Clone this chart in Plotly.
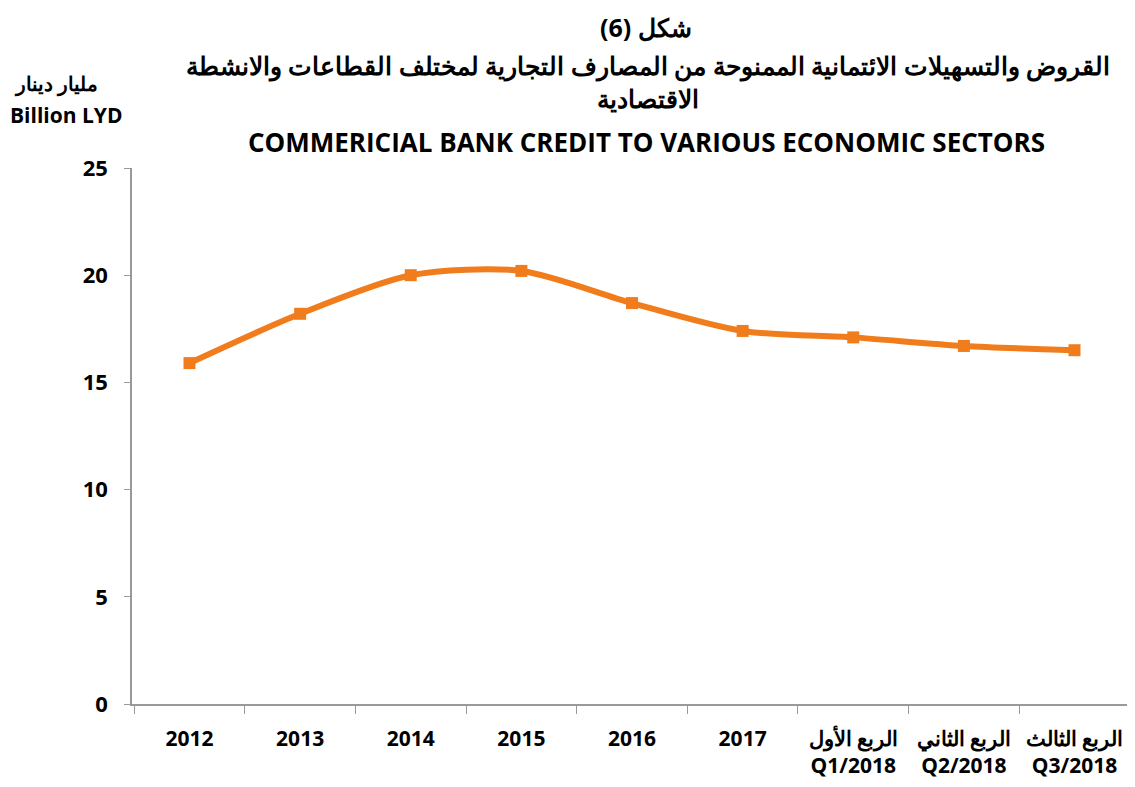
import plotly.graph_objects as go

categories = ["2012", "2013", "2014", "2015", "2016", "2017",
              "الربع الأول<br>Q1/2018", "الربع الثاني<br>Q2/2018", "الربع الثالث<br>Q3/2018"]
credit_values = [15.9, 18.2, 20.0, 20.2, 18.7, 17.4, 17.1, 16.7, 16.5]
y_ticks = [0, 5, 10, 15, 20, 25]

ORANGE = "#F07C1C"
FONT = "Open Sans"
W, H = 1135, 787
OFF = 8  # page body margin
L, R, T, B = 124, 11, 160, 91

fig = go.Figure()
fig.add_trace(go.Scatter(
    x=categories, y=credit_values, mode="lines+markers",
    line=dict(color=ORANGE, width=6, shape="spline", smoothing=0.8),
    marker=dict(symbol="square", size=12, color=ORANGE),
    showlegend=False,
))

fig.update_layout(
    width=W, height=H,
    paper_bgcolor="white", plot_bgcolor="white",
    margin=dict(l=L, r=R, t=T, b=B, autoexpand=False),
    font=dict(family=FONT, color="black"),
    xaxis=dict(
        type="category", showgrid=False, showline=True, linecolor="#999", linewidth=1.5,
        ticks="outside", tickson="boundaries", ticklen=8, tickcolor="#999",
        tickfont=dict(size=21, family=FONT, weight="bold"), automargin=False,
        ticklabelstandoff=15, tickangle=0,
    ),
    yaxis=dict(
        range=[0, 25], tickvals=y_ticks, showgrid=False, zeroline=False,
        showline=True, linecolor="#999", linewidth=1.5,
        ticks="outside", ticklen=6, tickcolor="#999",
        tickfont=dict(size=22, family=FONT, weight="bold"), automargin=False,
        ticklabelstandoff=12,
    ),
)

ann = [
    ("شكل (6)", 646, 27, 25),
    ("القروض والتسهيلات الائتمانية الممنوحة من المصارف التجارية لمختلف القطاعات والانشطة", 648, 65, 25),
    ("الاقتصادية", 648, 98, 25),
    ("COMMERICIAL BANK CREDIT TO VARIOUS ECONOMIC SECTORS", 646, 142, 26),
    ("مليار دينار", 56, 83, 20),
    ("Billion LYD", 66, 115, 21),
]
pw = W - L - R
ph = H - T - B
for text, x, y, size in ann:
    fig.add_annotation(
        text=f"<b>{text}</b>", xref="paper", yref="paper",
        x=(x - OFF - L) / pw, y=(H - B - (y - OFF)) / ph,
        xanchor="center", yanchor="middle", showarrow=False,
        font=dict(size=size, family=FONT, color="black"),
    )

fig.write_html("out.html")
